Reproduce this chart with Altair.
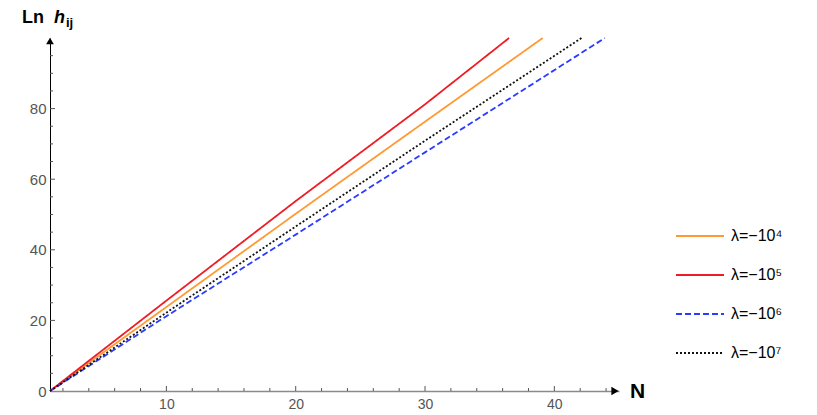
import altair as alt
import pandas as pd

# --- data ---
series = ["λ=−10⁴", "λ=−10⁵", "λ=−10⁶", "λ=−10⁷"]
colors = ["#FF9A33", "#EE1C25", "#2B3BFF", "#111111"]
dashes = [[1, 0], [1, 0], [6, 3], [2, 2]]

n_orange = [1, 10, 20, 30, 39.1]
y_orange = [0, 23.8, 50.2, 76.3, 100]
n_red = [1, 10, 20, 30, 36.5]
y_red = [0, 25.6, 53.8, 81.2, 100]
n_blue = [1, 10, 20, 30, 43.9]
y_blue = [0, 21.2, 44.3, 67.6, 100]
n_black = [1, 10, 20, 30, 42.1]
y_black = [0, 22.2, 46.6, 70.9, 100]

x_labels = [10, 20, 30, 40]
y_labels = [0, 20, 40, 60, 80]
x_minor = [2, 4, 6, 8, 12, 14, 16, 18, 22, 24, 26, 28, 32, 34, 36, 38, 42, 44]
y_minor = [5, 10, 15, 25, 30, 35, 45, 50, 55, 65, 70, 75, 85, 90, 95]

rows = []
for name, ns, ys in [(series[0], n_orange, y_orange), (series[1], n_red, y_red),
                     (series[2], n_blue, y_blue), (series[3], n_black, y_black)]:
    for n, v in zip(ns, ys):
        rows.append({"s": name, "N": n, "v": v})
df = pd.DataFrame(rows)

W, H = 569, 353
FONT = "Liberation Sans"

xscale = alt.Scale(domain=[1, 45], nice=False, zero=False)
yscale = alt.Scale(domain=[0, 100], nice=False)

xaxis = alt.Axis(title=None, values=x_labels, ticks=False, tickSize=0, grid=False,
                 domainColor="#8a8a8a", domainWidth=1.6, labelFont=FONT,
                 labelFontSize=14, labelColor="#555555", labelPadding=6,
                 labelFlush=False)
yaxis = alt.Axis(title=None, values=y_labels, ticks=False, tickSize=0, grid=False,
                 domainColor="#000000", domainWidth=1, labelFont=FONT,
                 labelFontSize=15, labelColor="#555555", labelPadding=4,
                 labelFlush=False)

leg = dict(title=None, orient="none", legendX=625, legendY=190, symbolType="stroke",
           symbolSize=2304, symbolStrokeWidth=2, labelFontSize=16, labelFont=FONT,
           labelColor="#000000", rowPadding=23, labelOffset=6, padding=0, clipHeight=16)

lines = alt.Chart(df).mark_line(strokeWidth=1.8).encode(
    x=alt.X("N:Q", scale=xscale, axis=xaxis),
    y=alt.Y("v:Q", scale=yscale, axis=yaxis),
    color=alt.Color("s:N", scale=alt.Scale(domain=series, range=colors), legend=alt.Legend(**leg)),
    strokeDash=alt.StrokeDash("s:N", scale=alt.Scale(domain=series, range=dashes),
                              legend=alt.Legend(**leg)),
)

xmaj = alt.Chart(pd.DataFrame({"N": x_labels})).mark_rule(color="#555555", strokeWidth=1).encode(
    x=alt.X("N:Q", scale=xscale, axis=xaxis), y=alt.value(H), y2=alt.value(H - 5))
xmin = alt.Chart(pd.DataFrame({"N": x_minor})).mark_rule(color="#555555", strokeWidth=1).encode(
    x=alt.X("N:Q", scale=xscale, axis=xaxis), y=alt.value(H), y2=alt.value(H - 3))
ymaj = alt.Chart(pd.DataFrame({"v": y_labels[1:]})).mark_rule(color="#555555", strokeWidth=1).encode(
    y=alt.Y("v:Q", scale=yscale, axis=yaxis), x=alt.value(0), x2=alt.value(5))
ymin = alt.Chart(pd.DataFrame({"v": y_minor})).mark_rule(color="#555555", strokeWidth=1).encode(
    y=alt.Y("v:Q", scale=yscale, axis=yaxis), x=alt.value(0), x2=alt.value(3))

xarrow = alt.Chart(pd.DataFrame({"a": [1]})).mark_point(
    shape="triangle-right", filled=True, color="#000000", size=70, opacity=1).encode(
    x=alt.value(W - 4), y=alt.value(H))
yarrow = alt.Chart(pd.DataFrame({"a": [1]})).mark_point(
    shape="triangle-up", filled=True, color="#000000", size=60, opacity=1).encode(
    x=alt.value(0), y=alt.value(3))

def txt(t, x, y, size, style="normal", weight="bold"):
    return alt.Chart(pd.DataFrame({"t": [t]})).mark_text(
        align="left", baseline="alphabetic", font=FONT, fontSize=size,
        fontWeight=weight, fontStyle=style, color="#000000").encode(
        x=alt.value(x), y=alt.value(y), text="t:N")

t_ln = txt("Ln", -28, -15, 18)
t_h = txt("h", 4, -15, 18, style="italic")
t_ij = txt("ij", 16, -11, 13)
t_n = txt("N", W + 11, H + 7, 21)

chart = alt.layer(lines, xmin, xmaj, ymin, ymaj, xarrow, yarrow, t_ln, t_h, t_ij, t_n).properties(
    width=W, height=H,
    autosize=alt.AutoSizeParams(type="none"),
    padding={"left": 42, "top": 30, "right": 190, "bottom": 24},
).configure_view(stroke=None)

chart.save("out.html", embed_options={"renderer": "svg", "actions": False})
